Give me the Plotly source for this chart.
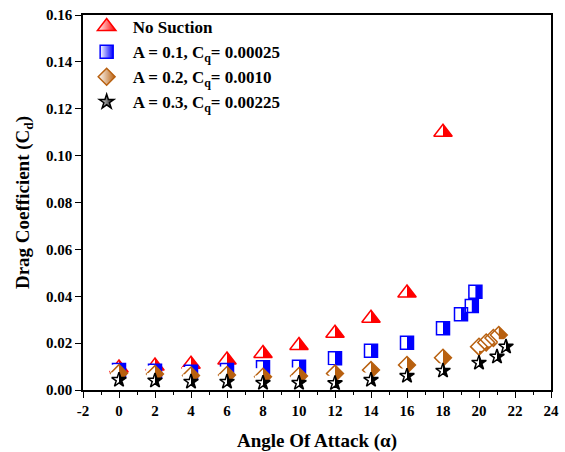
import plotly.graph_objects as go

# Data
aoa_none = [0, 2, 4, 6, 8, 10, 12, 14, 16, 18]
cd_none = [0.0094, 0.0102, 0.0110, 0.0128, 0.0156, 0.0190, 0.0242, 0.0306, 0.0414, 0.1100]

aoa_a1 = [0, 2, 4, 6, 8, 10, 12, 14, 16, 18, 19.0, 19.6, 19.8]
cd_a1 = [0.0085, 0.0082, 0.0078, 0.0085, 0.0097, 0.0099, 0.0136, 0.0167, 0.0202, 0.0263, 0.0323, 0.0358, 0.0419]

aoa_a2 = [0, 2, 4, 6, 8, 10, 12, 14, 16, 18, 20.0, 20.4, 20.8, 21.1]
cd_a2 = [0.0072, 0.0068, 0.0062, 0.0064, 0.0057, 0.0060, 0.0070, 0.0085, 0.0107, 0.0138, 0.0185, 0.0203, 0.0222, 0.0235]

aoa_a3 = [0, 2, 4, 6, 8, 10, 12, 14, 16, 18, 20.0, 21.0, 21.5]
cd_a3 = [0.0043, 0.0040, 0.0035, 0.0035, 0.0030, 0.0030, 0.0029, 0.0043, 0.0060, 0.0082, 0.0116, 0.0142, 0.0185]

x_tickvals = [-2, 0, 2, 4, 6, 8, 10, 12, 14, 16, 18, 20, 22, 24]
x_ticktext = ["-2", "0", "2", "4", "6", "8", "10", "12", "14", "16", "18", "20", "22", "24"]

names = ["No Suction",
         "A = 0.1, C<sub>q</sub>= 0.00025",
         "A = 0.2, C<sub>q</sub>= 0.0010",
         "A = 0.3, C<sub>q</sub>= 0.00225"]
colors = ["#ff0000", "#0000ff", "#b8600f", "#000000"]
symbols = ["triangle-up", "square", "diamond", "star"]
sizes = [16, 13, 13, 11]
# marker width / size and height / size for plotly symbols (style constants)
wfac = [1.155, 1.0, 1.3, 1.4]
hfac = [1.0, 1.0, 1.3, 1.35]

FONT = "Liberation Serif"
XR = [-2, 24]
ML, MR, MT, MB = 83, 14, 15, 62
W, H = 565, 452
plot_w = W - ML - MR
units_per_px = (XR[1] - XR[0]) / plot_w

fig = go.Figure()
series = [(aoa_none, cd_none), (aoa_a1, cd_a1), (aoa_a2, cd_a2), (aoa_a3, cd_a3)]
layout_axes = {}
ax_n = 1
for i, ((x, y), name, c, s, sz, wf, hf) in enumerate(zip(series, names, colors, symbols, sizes, wfac, hfac)):
    mw = sz * wf
    cover_w = mw / 2 + 0.5
    shift_px = cover_w / 2
    # 1) full filled marker
    ax_n += 1
    layout_axes["xaxis%d" % ax_n] = dict(overlaying="x", visible=False, range=XR, automargin=False)
    fig.add_trace(go.Scatter(x=x, y=y, mode="markers", showlegend=False, hoverinfo="skip",
                             xaxis="x%d" % ax_n,
                             marker=dict(symbol=s, size=sz, color=c, line=dict(width=0))))
    # 2) white cover on left half (drawn on a pixel-shifted overlay axis)
    ax_n += 1
    layout_axes["xaxis%d" % ax_n] = dict(overlaying="x", visible=False, automargin=False,
                                         range=[XR[0] + shift_px * units_per_px,
                                                XR[1] + shift_px * units_per_px])
    fig.add_trace(go.Scatter(x=x, y=y, mode="markers", showlegend=False, hoverinfo="skip",
                             xaxis="x%d" % ax_n,
                             marker=dict(symbol="line-ns", size=sz * hf / 1.4,
                                         line=dict(color="white", width=cover_w))))
    # 3) outline
    ax_n += 1
    layout_axes["xaxis%d" % ax_n] = dict(overlaying="x", visible=False, range=XR, automargin=False)
    fig.add_trace(go.Scatter(x=x, y=y, mode="markers", showlegend=False, name=name,
                             xaxis="x%d" % ax_n,
                             marker=dict(symbol=s + "-open", size=sz, color=c,
                                         line=dict(color=c, width=1.5))))

# legend entries
for name, c, s, sz in zip(names, colors, symbols, sizes):
    fig.add_trace(go.Scatter(x=[None], y=[None], mode="markers", name="<b>" + name + "</b>",
                             marker=dict(symbol=s, size=sz, color="white",
                                         gradient=dict(type="horizontal", color=c),
                                         line=dict(color=c, width=1.5))))

axis_common = dict(
    showline=True, linecolor="black", linewidth=1.5, mirror=True,
    ticks="outside", ticklen=6, tickwidth=1.3, tickcolor="black",
    showgrid=False, zeroline=False, automargin=False,
    tickfont=dict(family=FONT, size=15, color="black", weight="bold"),
)

layout_axes["xaxis"] = dict(
    range=XR, tickmode="array", tickvals=x_tickvals, ticktext=x_ticktext,
    minor=dict(ticks="outside", ticklen=3, tickwidth=1, dtick=1, tick0=-2, tickcolor="black"),
    title=dict(text="Angle Of Attack (α)", font=dict(family=FONT, size=19, color="black", weight="bold"), standoff=16),
    **axis_common,
)
layout_axes["yaxis"] = dict(
    range=[0, 0.16], dtick=0.02, tickformat=".2f",
    title=dict(text="Drag Coefficient (C<sub>d</sub>)", font=dict(family=FONT, size=19, color="black", weight="bold"), standoff=11),
    **axis_common,
)

fig.update_layout(
    width=W, height=H,
    margin=dict(l=ML, r=MR, t=MT, b=MB, autoexpand=False),
    paper_bgcolor="white", plot_bgcolor="white",
    showlegend=True,
    legend=dict(x=-0.005, y=1.016, xanchor="left", yanchor="top",
                bgcolor="rgba(0,0,0,0)", borderwidth=0, itemwidth=42,
                font=dict(family=FONT, size=17, color="black", weight="bold"),
                itemsizing="trace"),
    **layout_axes,
)

fig.write_html("out.html")
